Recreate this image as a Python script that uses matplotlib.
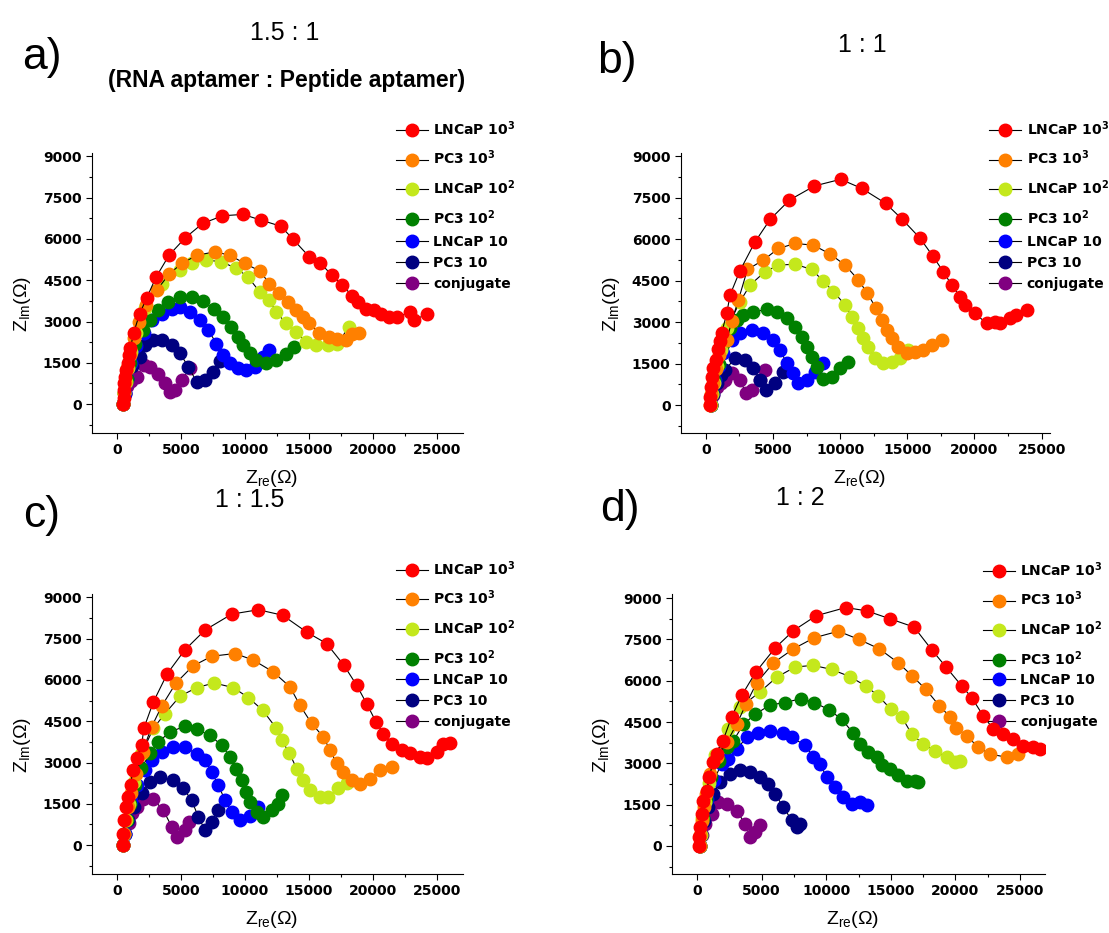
import numpy as np
import matplotlib
matplotlib.use('Agg')
import matplotlib.pyplot as plt
from matplotlib.ticker import MultipleLocator

plt.rcParams['mathtext.fontset'] = 'custom'
plt.rcParams['mathtext.rm'] = 'Liberation Sans'
plt.rcParams['mathtext.bf'] = 'DejaVu Sans:bold'

# series names and colours (same in all four panels)
labels = ['LNCaP 10$^{\\mathbf{3}}$', 'PC3 10$^{\\mathbf{3}}$', 'LNCaP 10$^{\\mathbf{2}}$',
          'PC3 10$^{\\mathbf{2}}$', 'LNCaP 10', 'PC3 10', 'conjugate']
colors = ['#ff0000', '#ff8000', '#c4e81c', '#008000', '#0000ff', '#000080', '#800080']

# ---- panel a (1.5 : 1), points as (Zre, Zim) in ohm
a_lncap3 = [(440, 0), (520, 210), (520, 510), (570, 750), (650, 990), (730, 1230), (830, 1480), (910, 1780),
            (1040, 2020), (1300, 2590), (1760, 3270), (2330, 3870), (3060, 4620), (4070, 5410), (5310, 6030),
            (6680, 6560), (8240, 6840), (9840, 6890), (11270, 6680), (12800, 6460), (13730, 6000), (15020, 5350),
            (15880, 5130), (16780, 4680), (17610, 4320), (18390, 3920), (18860, 3720), (19430, 3470), (20070, 3410),
            (20590, 3270), (21240, 3170), (21890, 3150), (22920, 3350), (23180, 3050), (24220, 3270)]
a_pc3_3 = [(450, 0), (550, 400), (650, 800), (800, 1300), (1000, 1800), (1300, 2400), (1700, 3000), (2300, 3600),
           (3110, 4140), (4070, 4720), (5050, 5110), (6270, 5410), (7640, 5530), (8810, 5410), (9970, 5110),
           (11140, 4840), (11910, 4380), (12640, 4020), (13340, 3720), (13990, 3410), (14500, 3170), (15020, 2930),
           (15800, 2590), (16580, 2440), (17220, 2380), (17870, 2320), (18390, 2540), (18910, 2590)]
a_lncap2 = [(460, 0), (560, 400), (680, 800), (850, 1300), (1100, 1900), (1500, 2600), (2200, 3500),
            (3500, 4380), (4920, 4860), (5830, 5110), (6990, 5230), (8160, 5170), (9320, 4930), (10230, 4620),
            (11140, 4080), (11910, 3780), (12430, 3350), (13210, 2930), (13990, 2630), (14760, 2260), (15540, 2140),
            (16450, 2140), (17220, 2200), (18130, 2810)]
a_pc3_2 = [(470, 0), (580, 400), (750, 900), (1000, 1500), (1400, 2200), (2000, 2700),
           (2590, 3050), (3240, 3410), (4020, 3720), (4920, 3900), (5830, 3900), (6730, 3750), (7560, 3440),
           (8290, 3170), (8940, 2810), (9450, 2440), (9840, 2140), (10360, 1840), (10880, 1600), (11660, 1500),
           (12430, 1600), (13210, 1820), (13860, 2060)]
a_lncap1 = [(480, 0), (600, 400), (800, 900), (1100, 1500), (1500, 2100),
            (2070, 2570), (2720, 3050), (3500, 3290), (4270, 3470), (4920, 3530), (5700, 3350), (6480, 3050),
            (7120, 2690), (7770, 2200), (8290, 1780), (8810, 1480), (9450, 1300), (10100, 1230), (10750, 1360),
            (11400, 1720), (11910, 1960)]
a_pc3_1 = [(480, 0), (600, 400), (800, 900), (1200, 1400),
           (1810, 1720), (2200, 2140), (2850, 2320), (3500, 2320), (4270, 2140), (4920, 1840), (5570, 1360),
           (6220, 810), (6860, 870), (7510, 1170), (8030, 1570)]
a_conj = [(480, 0), (600, 350), (800, 650), (1100, 850),
          (1550, 990), (2070, 1420), (2590, 1360), (3240, 1110), (3760, 750), (4140, 450), (4530, 510),
          (5050, 870), (5700, 1300)]

# ---- panel b (1 : 1)
b_lncap3 = [(320, 0), (320, 300), (370, 660), (450, 1020), (570, 1330), (770, 1630), (940, 2020), (1070, 2330),
            (1190, 2620), (1560, 3310), (1810, 3980), (2550, 4860), (3670, 5900), (4790, 6710), (6230, 7410),
            (8090, 7920), (10040, 8160), (11610, 7830), (13390, 7290), (14630, 6710), (15950, 6030), (16890, 5390),
            (17680, 4820), (18300, 4340), (18920, 3920), (19290, 3620), (20040, 3310), (20910, 2950), (21530, 3010),
            (21900, 2950), (22640, 3130), (23090, 3250), (23880, 3430)]
b_pc3_3 = [(350, 0), (420, 400), (550, 800), (750, 1300), (1000, 1800), (1560, 2350), (1950, 3050),
           (2430, 3800), (3100, 4900), (4290, 5240), (5410, 5660), (6650, 5840), (8010, 5780), (9250, 5460),
           (10370, 5060), (11360, 4520), (12030, 4040), (12670, 3500), (13090, 3070), (13470, 2710), (13840, 2410),
           (14330, 2110), (14950, 1870), (15570, 1930), (16190, 1990), (16810, 2170), (17560, 2350)]
b_lncap2 = [(360, 0), (440, 400), (580, 800), (800, 1400), (1100, 2000), (1600, 2800),
            (2550, 3740), (3300, 4340), (4410, 4820), (5410, 5060), (6650, 5090), (7890, 4900), (8750, 4480),
            (9500, 4100), (10370, 3620), (10860, 3190), (11360, 2770), (11730, 2410), (12100, 2110), (12600, 1690),
            (13170, 1510), (13840, 1570), (14460, 1690), (15080, 1990)]
b_pc3_2 = [(380, 0), (480, 400), (650, 900), (950, 1500), (1300, 2200),
           (1810, 2770), (2310, 3070), (2800, 3250), (3550, 3370), (4540, 3460), (5280, 3370), (6030, 3130),
           (6650, 2830), (7140, 2470), (7510, 2110), (7890, 1750), (8260, 1390), (8750, 960), (9370, 1020),
           (9990, 1330), (10610, 1570)]
b_lncap1 = [(400, 0), (500, 400), (700, 900), (950, 1400),
            (1310, 1870), (1930, 2350), (2550, 2590), (3420, 2710), (4290, 2590), (5030, 2350), (5530, 1990),
            (6030, 1510), (6520, 1150), (6890, 780), (7510, 900), (8130, 1210), (8750, 1530)]
b_pc3_1 = [(420, 0), (550, 400), (800, 800), (1100, 1100),
           (1440, 1270), (2180, 1690), (2930, 1630), (3550, 1330), (4040, 900), (4490, 540), (5160, 780),
           (5780, 1210)]
b_conj = [(420, 0), (550, 350), (800, 650), (1100, 800),
          (1440, 900), (1930, 1150), (2550, 900), (3000, 420), (3420, 540), (4040, 900), (4410, 1270)]

# ---- panel c (1 : 1.5)
c_lncap3 = [(440, 0), (500, 420), (570, 910), (700, 1390), (890, 1750), (1070, 2180), (1220, 2720), (1540, 3150),
            (1930, 3650), (2100, 4250), (2840, 5200), (3930, 6230), (5280, 7080), (6870, 7810), (8960, 8390),
            (11040, 8550), (12940, 8350), (14810, 7740), (16380, 7320), (17730, 6530), (18720, 5810),
            (19500, 5140), (20230, 4480), (20800, 4050), (21450, 3690), (22230, 3450), (22880, 3330),
            (23660, 3210), (24190, 3150), (24970, 3390), (25480, 3690), (26010, 3700)]
c_pc3_3 = [(450, 0), (530, 400), (650, 900), (850, 1400), (1100, 1900), (1500, 2600), (2000, 3400),
           (2710, 4300), (3490, 5050), (4610, 5890), (5910, 6500), (7390, 6860), (9220, 6960), (10650, 6720),
           (12210, 6290), (13510, 5750), (14290, 5080), (15200, 4420), (16120, 3930), (16640, 3450), (17160, 2970),
           (17670, 2660), (18330, 2360), (18980, 2210), (19760, 2420), (20540, 2720), (21450, 2840)]
c_lncap2 = [(460, 0), (560, 400), (700, 900), (900, 1500), (1300, 2300), (1900, 3300),
            (2840, 4240), (3750, 4780), (4920, 5410), (6230, 5720), (7580, 5890), (9090, 5720), (10260, 5360),
            (11380, 4900), (12420, 4260), (12860, 3810), (13460, 3350), (14030, 2780), (14550, 2360), (15070, 2000),
            (15850, 1750), (16510, 1750), (17280, 2060), (17940, 2240)]
c_pc3_2 = [(470, 0), (580, 400), (750, 900), (1000, 1500), (1400, 2200), (1900, 2800),
           (2580, 3330), (3230, 3750), (4140, 4110), (5310, 4320), (6230, 4200), (7260, 3990), (8170, 3630),
           (8830, 3210), (9290, 2780), (9740, 2360), (10080, 1940), (10390, 1570), (10910, 1210), (11430, 1030),
           (12080, 1270), (12600, 1510), (12860, 1820)]
c_lncap1 = [(480, 0), (600, 400), (800, 900), (1100, 1600), (1600, 2200),
            (2190, 2720), (2710, 3090), (3490, 3390), (4400, 3570), (5310, 3570), (6230, 3300), (6870, 3110),
            (7390, 2660), (7910, 2180), (8440, 1630), (8960, 1210), (9610, 910), (10390, 1050), (11040, 1390)]
c_pc3_1 = [(480, 0), (600, 400), (850, 900), (1300, 1400),
           (1930, 1880), (2580, 2300), (3360, 2480), (4400, 2360), (5180, 2060), (5830, 1630), (6350, 1030),
           (6870, 550), (7390, 850), (7910, 1270)]
c_conj = [(480, 0), (620, 400), (900, 800), (1200, 1150),
          (1540, 1390), (2060, 1690), (2840, 1660), (3620, 1270), (4270, 670), (4710, 300), (5310, 550),
          (5650, 850)]

# ---- panel d (1 : 2)
d_lncap3 = [(180, 0), (180, 330), (230, 690), (360, 1170), (490, 1650), (750, 2010), (960, 2490), (1210, 3040),
            (1520, 3340), (1990, 3800), (2680, 4690), (3460, 5470), (4540, 6310), (6040, 7190), (7460, 7820),
            (9210, 8360), (11510, 8660), (13130, 8540), (14940, 8250), (16800, 7950), (18160, 7130), (19270, 6500),
            (20490, 5810), (21260, 5390), (22160, 4720), (22940, 4240), (23710, 4060), (24480, 3880),
            (25260, 3640), (26030, 3580), (26550, 3520)]
d_pc3_3 = [(200, 0), (250, 400), (350, 900), (500, 1400), (700, 1900), (1000, 2600),
           (1520, 3220), (2300, 3760), (3070, 4420), (3790, 5150), (4620, 5930), (5910, 6650), (7460, 7160),
           (9060, 7560), (10940, 7800), (12540, 7500), (14110, 7160), (15580, 6650), (16670, 6170), (17700, 5690),
           (18760, 5090), (19580, 4690), (20050, 4300), (20870, 4000), (21780, 3580), (22680, 3340),
           (23970, 3220), (24870, 3340)]
d_lncap2 = [(220, 0), (280, 400), (400, 1000), (600, 1600), (900, 2300), (1400, 3300),
            (2430, 4240), (3330, 5030), (4880, 5600), (6170, 6130), (7590, 6500), (9000, 6560), (10420, 6410),
            (11840, 6150), (13060, 5810), (14040, 5450), (14990, 4970), (15840, 4690), (16620, 4060),
            (17520, 3700), (18420, 3460), (19320, 3220), (19970, 3040), (20360, 3100)]
d_pc3_2 = [(230, 0), (300, 400), (450, 1000), (700, 1700), (1100, 2500), (1700, 3100),
           (2300, 3580), (2810, 3820), (3590, 4420), (4490, 4780), (5650, 5120), (6810, 5210), (8050, 5350),
           (9080, 5210), (10240, 4940), (11200, 4600), (12050, 4120), (12620, 3700), (13260, 3400), (13910, 3220),
           (14290, 2950), (14940, 2800), (15580, 2560), (16230, 2370), (16870, 2350), (17130, 2310)]
d_lncap1 = [(250, 0), (320, 400), (480, 1000), (800, 1700), (1300, 2400),
            (1910, 2980), (2430, 3160), (3070, 3520), (3840, 3940), (4750, 4120), (5650, 4180), (6680, 4120),
            (7330, 3940), (8360, 3660), (9000, 3220), (9520, 2980), (10040, 2490), (10680, 2130), (11330, 1770),
            (11970, 1530), (12620, 1590), (13130, 1470)]
d_pc3_1 = [(250, 0), (330, 400), (500, 900), (850, 1400),
           (1260, 1890), (1780, 2310), (2550, 2620), (3330, 2760), (4100, 2680), (4880, 2490), (5520, 2250),
           (6040, 1890), (6680, 1410), (7330, 930), (7710, 690), (7970, 810)]
d_conj = [(250, 0), (350, 400), (600, 800),
          (1140, 1170), (1650, 1590), (2300, 1530), (3070, 1270), (3720, 810), (4100, 330), (4490, 510),
          (4880, 750)]

# letter, series, axes rect, xlim, ylim, legend anchors (superscript rows / plain rows)
panels = [
    ('a)', [a_lncap3, a_pc3_3, a_lncap2, a_pc3_2, a_lncap1, a_pc3_1, a_conj],
     [0.0830, 0.5359, 0.3345, 0.3001], (-1950, 27030), (-1050, 9120), (0.80, 1.146), (0.80, 0.732)),
    ('b)', [b_lncap3, b_pc3_3, b_lncap2, b_pc3_2, b_lncap1, b_pc3_1, b_conj],
     [0.6141, 0.5359, 0.3327, 0.3001], (-1840, 25620), (-1010, 9110), (0.816, 1.146), (0.816, 0.732)),
    ('c)', [c_lncap3, c_pc3_3, c_lncap2, c_pc3_2, c_lncap1, c_pc3_1, c_conj],
     [0.0830, 0.0632, 0.3345, 0.3001], (-1950, 27030), (-1050, 9120), (0.80, 1.150), (0.80, 0.743)),
    ('d)', [d_lncap3, d_pc3_3, d_lncap2, d_pc3_2, d_lncap1, d_pc3_1, d_conj],
     [0.6060, 0.0632, 0.3363, 0.3001], (-1935, 26935), (-1020, 9150), (0.815, 1.146), (0.815, 0.742)),
]

fig = plt.figure(figsize=(11.09, 9.33), dpi=100)
legprop = {'family': 'DejaVu Sans', 'weight': 'bold', 'size': 10}

for letter, series, rect, xl, yl, anc1, anc2 in panels:
    ax = fig.add_axes(rect)
    n = len(series)
    lines = []
    for i, (pts, lab, col) in enumerate(zip(series, labels, colors)):
        pts = np.array(pts)
        ln, = ax.plot(pts[:, 0], pts[:, 1], '-', color='black', lw=0.8,
                      marker='o', ms=9, mfc=col, mec=col, label=lab, zorder=10 + n - i)
        lines.append(ln)
    ax.set_xlim(*xl)
    ax.set_ylim(*yl)
    ax.spines['top'].set_visible(False)
    ax.spines['right'].set_visible(False)
    ax.set_xticks(np.arange(0, 25001, 5000))
    ax.set_yticks(np.arange(0, 9001, 1500))
    ax.xaxis.set_minor_locator(MultipleLocator(2500))
    ax.yaxis.set_minor_locator(MultipleLocator(750))
    ax.tick_params(which='major', length=4, width=0.8, labelsize=10)
    ax.tick_params(which='minor', length=2.5, width=0.8)
    for t in ax.get_xticklabels() + ax.get_yticklabels():
        t.set_fontweight('bold')
        t.set_family('DejaVu Sans')
    ax.set_xlabel('Z$_{\\mathrm{re}}$(\u03a9)', family='Liberation Sans', fontsize=14)
    ax.set_ylabel('Z$_{\\mathrm{Im}}$(\u03a9)', family='Liberation Sans', fontsize=14)
    ax.xaxis.set_label_coords(0.485, -0.125)
    ax.yaxis.set_label_coords(-0.16, 0.46)
    # the rows with superscripts sit further apart than the plain ones
    leg1 = ax.legend(lines[:4], labels[:4], loc='upper left', bbox_to_anchor=anc1, frameon=False,
                     borderpad=0, handlelength=2.3, handletextpad=0.4, labelspacing=0.8, prop=legprop)
    ax.add_artist(leg1)
    ax.legend(lines[4:], labels[4:], loc='upper left', bbox_to_anchor=anc2, frameon=False,
              borderpad=0, handlelength=2.3, handletextpad=0.4, labelspacing=0.5, prop=legprop)

W, H = 1109.0, 933.0
def ftext(px, py, s, **kw):
    fig.text(px / W, 1 - py / H, s, ha='center', va='center', family='Liberation Sans', **kw)

ftext(42, 58, 'a)', fontsize=32)
ftext(617, 62, 'b)', fontsize=32)
ftext(42, 515, 'c)', fontsize=32)
ftext(620, 510, 'd)', fontsize=32)
ftext(285, 33, '1.5 : 1', fontsize=18)
ftext(287, 80, '(RNA aptamer : Peptide aptamer)', fontsize=16.5, fontweight='bold')
ftext(862, 45, '1 : 1', fontsize=18)
ftext(250, 500, '1 : 1.5', fontsize=18)
ftext(800, 498, '1 : 2', fontsize=18)

fig.savefig('out.png', dpi=100)
